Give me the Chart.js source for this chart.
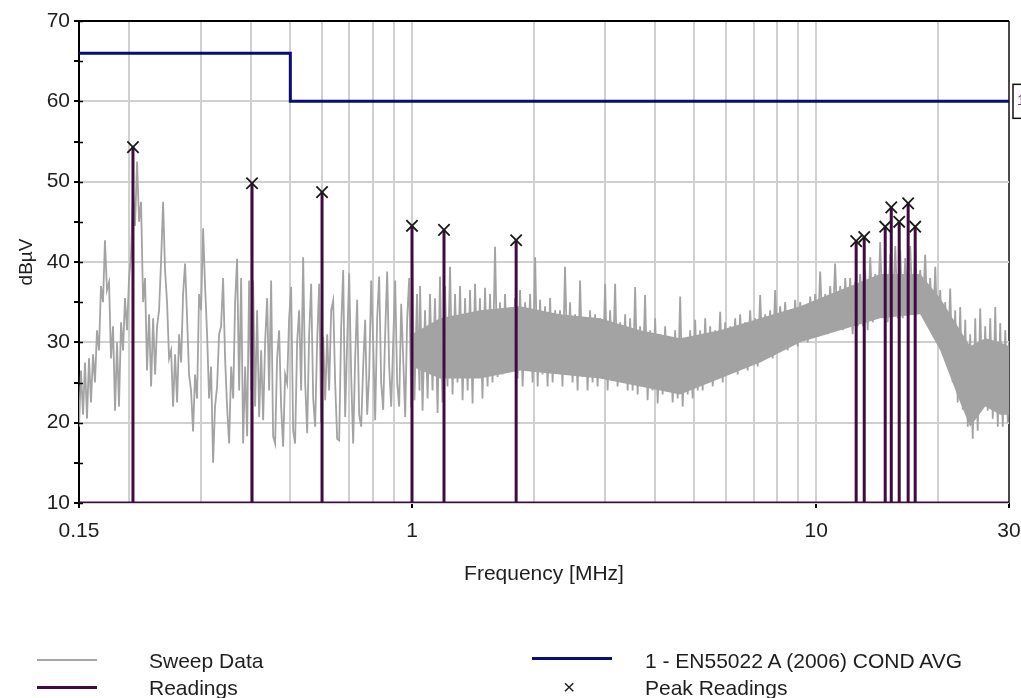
<!DOCTYPE html>
<html><head><meta charset="utf-8">
<script src="https://cdn.jsdelivr.net/npm/chart.js@4.4.1/dist/chart.umd.min.js"></script>
<style>
html,body{margin:0;padding:0;background:#fff;}
#wrap{position:relative;width:1021px;height:698px;overflow:hidden;background:#fff;}
canvas{position:absolute;left:0;top:0;}
.lg{position:absolute;font-family:"Liberation Sans",Arial,sans-serif;font-size:21px;color:#1e1e1e;line-height:24px;white-space:nowrap;}
.sw{position:absolute;height:0;}
</style></head><body>
<div id="wrap">
<canvas id="c" width="1021" height="698"></canvas>
<div class="sw" style="left:37px;top:659px;width:60px;border-top:2px solid #a8a8a8"></div>
<div class="lg" style="left:149px;top:649px">Sweep Data</div>
<div class="sw" style="left:37px;top:686px;width:60px;border-top:3px solid #400c40"></div>
<div class="lg" style="left:149px;top:676px">Readings</div>
<div class="sw" style="left:532px;top:657px;width:80px;border-top:3px solid #0b0b7a"></div>
<div class="lg" style="left:645px;top:649px">1 - EN55022 A (2006) COND AVG</div>
<div class="lg" style="left:563px;top:675px">×</div>
<div class="lg" style="left:645px;top:676px">Peak Readings</div>
</div>
<script>
// ---- data ----
const xTickLabels = [0.15, 1, 10, 30];
const xGridValues = [0.15,0.2,0.3,0.4,0.5,0.6,0.7,0.8,0.9,1,2,3,4,5,6,7,8,9,10,20,30];
const yTickValues = [10,20,30,40,50,60,70];

const limitFreq  = [0.15, 0.5, 0.5, 30];
const limitLevel = [66, 66, 60, 60];

const readingFreq  = [0.204, 0.402, 0.599, 1.0, 1.2, 1.81, 12.56, 13.15, 14.82, 15.34, 16.05, 16.89, 17.58];
const readingLevel = [54.3, 49.8, 48.7, 44.5, 44.0, 42.7, 42.6, 43.1, 44.4, 46.8, 45.0, 47.3, 44.4];
const readingBase = 10;

const sweepFreq = [
.1500,.1517,.1535,.1552,.1570,
.1588,.1606,.1625,.1643,.1662,
.1681,.1700,.1720,.1739,.1759,
.1780,.1800,.1821,.1842,.1863,
.1884,.1906,.1928,.1949,.1972,
.1995,.2018,.2041,.2064,.2088,
.2112,.2136,.2161,.2185,.2210,
.2236,.2262,.2288,.2314,.2340,
.2367,.2394,.2422,.2449,.2477,
.2506,.2535,.2564,.2593,.2623,
.2653,.2684,.2714,.2745,.2777,
.2808,.2840,.2873,.2905,.2939,
.2973,.3007,.3042,.3076,.3112,
.3147,.3183,.3220,.3256,.3294,
.3332,.3370,.3409,.3448,.3487,
.3528,.3569,.3610,.3650,.3692,
.3735,.3778,.3821,.3865,.3909,
.3954,.3999,.4045,.4091,.4138,
.4186,.4234,.4283,.4331,.4381,
.4431,.4482,.4533,.4585,.4637,
.4691,.4745,.4799,.4854,.4910,
.4966,.5023,.5081,.5138,.5197,
.5258,.5318,.5379,.5441,.5503,
.5566,.5630,.5695,.5759,.5825,
.5893,.5961,.6029,.6098,.6168,
.6238,.6310,.6382,.6455,.6529,
.6604,.6680,.6757,.6833,.6912,
.6991,.7071,.7152,.7234,.7317,
.7401,.7486,.7572,.7658,.7746,
.7835,.7925,.8016,.8107,.8200,
.8294,.8389,.8486,.8582,.8681,
.8781,.8882,.8984,.9086,.9190,
.9296,.9403,.9511,.9619,.9729,
.9841,.9954,
1.000,1.014,1.029,1.044,
1.047,1.062,1.077,1.093,
1.108,1.124,1.140,1.157,
1.173,1.190,1.207,1.224,
1.242,1.260,1.278,1.296,
1.315,1.334,1.353,1.373,
1.392,1.412,1.432,1.453,
1.473,1.494,1.516,1.538,
1.560,1.582,1.605,1.628,
1.651,1.675,1.699,1.723,
1.748,1.773,1.799,1.825,
1.851,1.878,1.905,1.932,
1.960,1.988,2.017,2.046,
2.074,2.104,2.134,2.165,
2.196,2.228,2.260,2.292,
2.324,2.357,2.391,2.426,
2.461,2.496,2.532,2.569,
2.605,2.643,2.681,2.719,
2.758,2.798,2.838,2.879,
2.920,2.962,3.005,3.048,
3.091,3.136,3.181,3.226,
3.273,3.320,3.368,3.416,
3.465,3.515,3.565,3.617,
3.667,3.720,3.773,3.828,
3.883,3.939,3.996,4.053,
4.111,4.170,4.230,4.291,
4.352,4.415,4.478,4.543,
4.608,4.674,4.742,4.810,
4.878,4.948,5.019,5.092,
5.164,5.238,5.314,5.390,
5.467,5.546,5.626,5.706,
5.787,5.870,5.955,6.040,
6.127,6.215,6.305,6.395,
6.485,6.578,6.673,6.769,
6.866,6.965,7.065,7.167,
7.268,7.373,7.479,7.586,
7.694,7.805,7.917,8.031,
8.145,8.262,8.381,8.502,
8.623,8.747,8.873,9.000,
9.130,9.261,9.395,9.530,
9.665,9.804,9.945,10.09,
10.23,10.38,10.53,10.68,
10.83,10.99,11.14,11.30,
11.47,11.64,11.80,11.97,
12.14,12.31,12.49,12.67,
12.85,13.04,13.22,13.41,
13.61,13.81,14.00,14.21,
14.40,14.61,14.82,15.03,
15.25,15.47,15.69,15.92,
16.14,16.37,16.61,16.85,
17.09,17.34,17.59,17.84,
18.09,18.35,18.61,18.88,
19.15,19.43,19.71,19.99,
20.27,20.56,20.86,21.16,
21.46,21.77,22.08,22.40,
22.72,23.05,23.38,23.72,
24.05,24.40,24.75,25.10,
25.46,25.83,26.20,26.58,
26.96,27.35,27.74,28.14,
28.54,28.95,29.37,29.79,
30.0];

const sweepLevel = [
19.5,26.5,21,27.5,20.5,
28,22.5,28.5,25,31.5,
29,37,35,42.7,36.5,
37.5,28,32,21.5,30,
22,32.5,29,35.5,31.5,
38,41,49,44.5,52.5,
45,47.5,35,38,26.5,
33.5,24.5,33,26,32,
34,40,47.5,39,35,
28,29,22,28.5,22.5,
31,27.5,36,39.8,33,
26,24,18.9,26,23,
36,34,44.2,37,31,
23,27,15,22,24.5,
31,32,38,28,22,
17.4,27,23,35,40.4,
24,38,17.4,27,18.3,
37.7,24,37.7,22,34,
20.7,29,20.3,30,35.5,
24,37.7,18.3,17.4,28,
31.5,22,17,26,24.9,
33,36.9,19,17.4,30,
34,24,40.6,25,18.7,
31,37.3,23,19.5,30,
37.3,20,30.7,22.8,31,
24,34,35.2,25,18,
17.8,32,39,20.7,30,
38.6,26,17.4,28,35.3,
21,19.5,27,32.8,21,
26,37.7,30,20.3,33,
38.2,25,21.6,31,38.8,
27,22,30,37.7,25,
22,34.8,28,20.7,33,
38,22,
42.7,22.8,36,24,
37,21.5,34,23,
36,24,35.5,21.2,
38.2,22.5,37,24.5,
39.4,23.5,36,25,
37,22.8,35.5,24,
36.5,22.4,37.3,25.7,
35.5,23,36.8,24.5,
36,25,41.9,25.7,
35,26,36,27.5,
33.5,26.5,35.5,25.5,
36.5,24.5,35,27,
36,25,40.6,24.5,
35.3,26,34.5,24.5,
35.5,25,34,26.5,
34,24.5,39.4,27,
35,25,33.5,24,
37.7,25.7,33,24,
34,25,33.5,24.5,
33,25.5,37.3,24,
34,26,37.3,24.5,
32.5,25,33.5,24,
33,24,36.9,23.5,
32,25,35.9,22.8,
31.5,24,33,22.4,
31,23.5,32,24,
30.5,22.5,31.5,23,
35.7,22,30.5,23.5,
31.5,23,32.8,24,
31.5,24,33,25,
32,24.5,31.5,25.5,
33.8,25,32.5,26,
32,26.5,33,26,
33.5,27,32.5,26.5,
34,27.5,33,27,
35.9,28,33.5,28.5,
34,28,36.5,29,
34.5,29.5,35,29,
34,30,35.3,29.5,
35,30.5,34.5,30,
35.7,31,36,30.7,
38.8,31.5,36,31,
37,32,39.8,31.5,
37,31.5,38,32,
38,31,37.5,32,
38.5,32,39,31.5,
40.6,32.5,38.5,33,
42.5,33,40,32.5,
41,33.5,42,33,
41.5,33,40.5,34,
42,33.5,41.5,34,
39,33.5,40.9,32.5,
38,31,39.4,30,
36.5,29,35,27,
36.7,25,34,22.5,
34.4,21.6,32.8,19.5,
31,18,33,19,
34.2,22,32,21.5,
33,20.5,34.4,19.5,
32.4,19.5,31.5,20,
30];

const bandFreq  = [1.0, 1.173, 1.473, 1.851, 2.324, 2.92, 3.667, 4.608, 5.787, 7.268, 9.13, 11.47, 14.4, 18.09, 20.27, 22.72, 24.05, 26.2, 28.54, 30];
const bandUpper = [31, 33, 34, 34.5, 33.5, 33, 31.5, 30.5, 31.5, 33, 34.5, 36.5, 38.5, 38.5, 35.5, 31.5, 29.5, 30.5, 30, 29.5];
const bandLower = [27, 25.5, 25.5, 26.5, 26, 25.5, 24.5, 23.5, 25.5, 27.5, 30, 31.5, 33, 33.5, 29, 22.5, 19.5, 22, 21, 21];

// ---- build chart ----
const FONT = "'Liberation Sans', Arial, sans-serif";
const TXT = '#1e1e1e';
const pts = (xs, ys) => xs.slice(0, Math.min(xs.length, ys.length)).map((x, i) => ({x, y: ys[i]}));

const readingPath = [{x: 0.15, y: readingBase}];
readingFreq.forEach((f, i) => {
  readingPath.push({x: f, y: readingBase}, {x: f, y: readingLevel[i]}, {x: f, y: readingBase});
});
readingPath.push({x: 30, y: readingBase});

const innerTicks = {
  id: 'innerTicks',
  afterDraw(chart) {
    const y = chart.scales.y, ctx = chart.ctx;
    ctx.save();
    ctx.strokeStyle = '#000'; ctx.lineWidth = 1.5;
    y.ticks.forEach(t => {
      const py = Math.round(y.getPixelForValue(t.value)) + 0.5;
      ctx.beginPath(); ctx.moveTo(y.right, py); ctx.lineTo(y.right + 4, py); ctx.stroke();
    });
    ctx.restore();
  }
};
const limitTag = {
  id: 'limitTag',
  afterDatasetsDraw(chart) {
    const meta = chart.getDatasetMeta(2);
    const p = meta.data[meta.data.length - 1];
    if (!p) return;
    const ctx = chart.ctx;
    ctx.save();
    ctx.strokeStyle = '#111'; ctx.lineWidth = 1.5;
    ctx.fillStyle = '#fff';
    ctx.fillRect(p.x + 4, p.y - 17, 24, 34);
    ctx.strokeRect(p.x + 4, p.y - 17, 24, 34);
    ctx.fillStyle = '#7a2a7a';
    ctx.font = '15px ' + FONT;
    ctx.textBaseline = 'middle';
    ctx.fillText('1', p.x + 8, p.y);
    ctx.restore();
  }
};

new Chart(document.getElementById('c'), {
  type: 'line',
  data: {
    datasets: [
      { label: 'Peak Readings', data: pts(readingFreq, readingLevel), showLine: false,
        pointStyle: 'crossRot', pointRadius: 8, borderColor: '#1a1a1a', borderWidth: 1.8, order: 0 },
      { label: 'Readings', data: readingPath, borderColor: '#400c40', borderWidth: 3,
        pointRadius: 0, order: 1 },
      { label: '1 - EN55022 A (2006) COND AVG', data: pts(limitFreq, limitLevel), borderColor: '#0b0b7a',
        borderWidth: 3, pointRadius: 0, order: 2 },
      { label: 'Sweep Data', data: pts(sweepFreq, sweepLevel), borderColor: '#a3a3a3', borderWidth: 1.8,
        pointRadius: 0, order: 3 },
      { label: 'band upper', data: pts(bandFreq, bandUpper), borderWidth: 0, borderColor: 'rgba(0,0,0,0)',
        backgroundColor: '#a3a3a3', fill: '+1', pointRadius: 0, order: 4 },
      { label: 'band lower', data: pts(bandFreq, bandLower), borderWidth: 0, borderColor: 'rgba(0,0,0,0)',
        pointRadius: 0, order: 5 }
    ]
  },
  options: {
    responsive: false,
    animation: false,
    events: [],
    layout: { padding: { left: 0, top: 21, right: 12, bottom: 0 } },
    elements: { line: { tension: 0 } },
    plugins: { legend: { display: false }, tooltip: { enabled: false } },
    scales: {
      x: {
        type: 'logarithmic', min: 0.15, max: 30,
        afterBuildTicks: s => { s.ticks = xGridValues.map(v => ({value: v})); },
        afterFit: s => { s.height = 195; s.paddingRight = 0; s.paddingLeft = 0; },
        ticks: { autoSkip: false, maxRotation: 0, padding: 11, color: TXT,
          font: { family: FONT, size: 21 },
          callback: v => xTickLabels.includes(v) ? String(v) : '' },
        grid: {
          color: c => (c.tick && c.tick.value === 30) ? '#4a4a4a' : '#d0d0d0',
          lineWidth: 2, tickLength: 5,
          tickColor: c => (c.tick && xTickLabels.includes(c.tick.value)) ? '#000' : 'rgba(0,0,0,0)'
        },
        border: { display: false },
        title: { display: true, text: 'Frequency [MHz]', color: TXT,
          font: { family: FONT, size: 21 }, padding: { top: 0, bottom: 111 } }
      },
      y: {
        min: 10, max: 70,
        afterFit: s => { s.width = 79; },
        ticks: { stepSize: 5, autoSkip: false, padding: 4, color: TXT,
          font: { family: FONT, size: 21 },
          callback: v => yTickValues.includes(v) ? String(v) : '' },
        grid: {
          color: c => { const v = c.tick ? c.tick.value : 0; return v === 70 ? '#000' : (v % 10 === 0 ? '#d0d0d0' : 'rgba(0,0,0,0)'); },
          lineWidth: 2,
          tickLength: 5, tickColor: '#000'
        },
        border: { color: '#000', width: 2 },
        title: { display: true, text: 'dBµV', color: TXT,
          font: { family: FONT, size: 19 }, padding: { top: 15, bottom: 0 } }
      }
    }
  },
  plugins: [innerTicks, limitTag]
});
</script>
</body></html>
